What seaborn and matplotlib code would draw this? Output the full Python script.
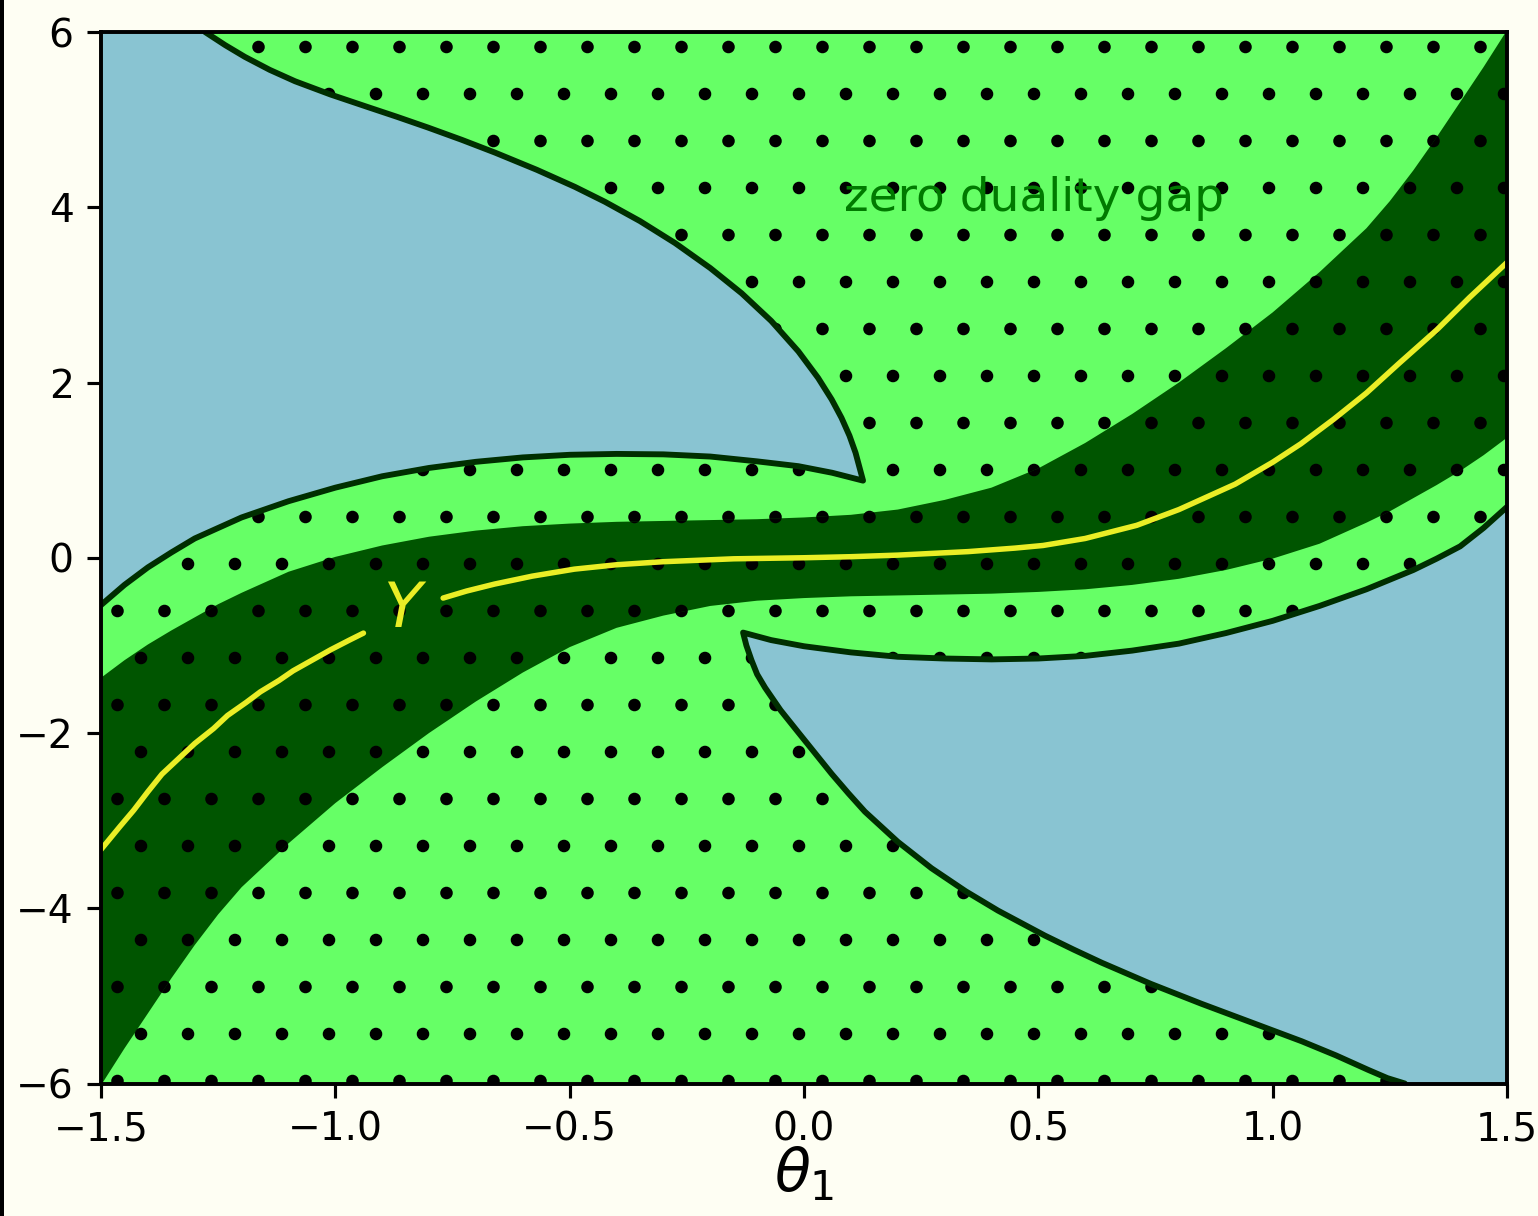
import matplotlib
matplotlib.use("Agg")
import matplotlib.pyplot as plt
import seaborn as sns

# -----------------------------
# Values
# -----------------------------
# upper-left "gap" lobe boundary: from the top edge down to the cusp, then back to the left edge
ul_x = [-1.278, -1.235, -1.193, -1.14, -1.086, -1.01, -0.930, -0.87, -0.802, -0.73,
        -0.659, -0.57, -0.489, -0.425, -0.35, -0.275, -0.20, -0.133, -0.07, -0.012,
        0.03, 0.059, 0.08, 0.097, 0.11, 0.126,
        0.06, -0.012, -0.1, -0.2, -0.3, -0.4, -0.5, -0.6, -0.7, -0.8, -0.9, -1.0,
        -1.1, -1.2, -1.3, -1.35, -1.4, -1.45, -1.5]
ul_y = [6.0, 5.85, 5.716, 5.568, 5.438, 5.286, 5.142, 5.035, 4.909, 4.769,
        4.623, 4.427, 4.233, 4.063, 3.842, 3.591, 3.306, 3.018, 2.703, 2.355,
        2.053, 1.807, 1.597, 1.393, 1.198, 0.88,
        0.97, 1.045, 1.10, 1.155, 1.18, 1.185, 1.175, 1.145, 1.095, 1.025, 0.93, 0.80,
        0.645, 0.46, 0.22, 0.06, -0.11, -0.31, -0.54]

# lower-right lobe boundary: from the bottom edge up to the cusp, then to the right edge
lr_x = [1.282, 1.245, 1.204, 1.135, 1.062, 0.96, 0.848, 0.74, 0.635, 0.575,
        0.514, 0.414, 0.345, 0.272, 0.20, 0.130, 0.095, 0.059, 0.025, -0.012,
        -0.05, -0.083, -0.10, -0.112, -0.123, -0.130,
        -0.07, 0.0, 0.1, 0.2, 0.3, 0.4, 0.5, 0.6, 0.7, 0.8, 0.9, 1.0,
        1.1, 1.2, 1.3, 1.35, 1.4, 1.45, 1.5]
lr_y = [-6.0, -5.939, -5.845, -5.679, -5.518, -5.314, -5.090, -4.863, -4.621, -4.471,
        -4.312, -4.027, -3.806, -3.543, -3.241, -2.898, -2.69, -2.466, -2.24, -1.994,
        -1.74, -1.483, -1.33, -1.170, -1.00, -0.854,
        -0.94, -1.01, -1.08, -1.13, -1.15, -1.16, -1.15, -1.12, -1.06, -0.98, -0.86, -0.72,
        -0.55, -0.36, -0.14, -0.01, 0.13, 0.34, 0.58]

# dark band around the Y curve
band_x = [-1.5, -1.45, -1.4, -1.35, -1.3, -1.25, -1.2, -1.1, -1.0, -0.9, -0.8, -0.7, -0.6,
          -0.5, -0.4, -0.3, -0.2, -0.1, 0.0, 0.1, 0.2, 0.3, 0.4, 0.5, 0.6, 0.7, 0.8, 0.9,
          1.0, 1.1, 1.2, 1.25, 1.3, 1.35, 1.4, 1.45, 1.5]
band_hi = [-1.37, -1.17, -0.99, -0.83, -0.68, -0.53, -0.40, -0.16, 0.01, 0.14, 0.24, 0.31,
           0.36, 0.39, 0.41, 0.42, 0.43, 0.44, 0.46, 0.49, 0.55, 0.66, 0.80, 1.02, 1.31,
           1.64, 2.00, 2.39, 2.80, 3.26, 3.76, 4.07, 4.42, 4.80, 5.20, 5.60, 6.02]
band_lo = [-6.02, -5.60, -5.20, -4.80, -4.42, -4.07, -3.76, -3.26, -2.80, -2.39, -2.00,
           -1.64, -1.31, -1.02, -0.80, -0.66, -0.55, -0.49, -0.46, -0.44, -0.43, -0.42,
           -0.41, -0.39, -0.36, -0.31, -0.24, -0.14, -0.01, 0.16, 0.40, 0.53, 0.68, 0.83,
           0.99, 1.17, 1.37]

# the Y curve (split where its label sits)
y1_x = [-1.5, -1.46, -1.43, -1.40, -1.37, -1.33, -1.30, -1.26, -1.23, -1.19, -1.16,
        -1.12, -1.09, -1.05, -1.01, -0.97, -0.94]
y1_y = [-3.33, -3.07, -2.88, -2.67, -2.47, -2.27, -2.12, -1.95, -1.80, -1.65, -1.53,
        -1.40, -1.29, -1.17, -1.05, -0.94, -0.86]
y2_x = [-0.77, -0.72, -0.66, -0.58, -0.49, -0.40, -0.30, -0.15, 0.0, 0.10, 0.20, 0.35,
        0.45, 0.51, 0.60, 0.71, 0.80, 0.92, 1.00, 1.06, 1.13, 1.20, 1.27, 1.35, 1.42, 1.5]
y2_y = [-0.46, -0.38, -0.30, -0.21, -0.13, -0.08, -0.045, -0.012, 0.0, 0.012, 0.03, 0.07,
        0.11, 0.14, 0.22, 0.37, 0.55, 0.84, 1.09, 1.30, 1.58, 1.88, 2.22, 2.60, 2.97, 3.37]

x_ticks = [-1.5, -1.0, -0.5, 0.0, 0.5, 1.0, 1.5]
y_ticks = [-6, -4, -2, 0, 2, 4, 6]

# -----------------------------
# Style
# -----------------------------
sns.set_style("ticks", rc={"axes.edgecolor": "black", "text.color": "black",
                           "xtick.color": "black", "ytick.color": "black",
                           "axes.labelcolor": "black"})
plt.rcParams["font.family"] = ["DejaVu Sans"]
plt.rcParams["font.size"] = 10
plt.rcParams["hatch.linewidth"] = 0.8
plt.rcParams["hatch.color"] = "black"

blue = "#89c4d2"
light = "#66ff66"
dark = "#005500"
edge = "#002e00"
yellow = "#eaee26"

dpi = 282
fig = plt.figure(figsize=(1538 / dpi, 1216 / dpi), dpi=dpi, facecolor="#fefef3")
ax = fig.add_axes([101 / 1538, 132.5 / 1216, 1406 / 1538, 1051.5 / 1216])

# light green, dotted background = zero duality gap region
ax.patch.set_facecolor(light)
ax.patch.set_edgecolor("black")
ax.patch.set_linewidth(0)
ax.patch.set_hatch(".")

ax.fill_between(band_x, band_lo, band_hi, facecolor=dark, edgecolor="black",
                linewidth=0, hatch=".", zorder=1)

ax.fill(ul_x + [-1.5], ul_y + [6.0], color=blue, linewidth=0, zorder=2)
ax.fill(lr_x + [1.5], lr_y + [-6.0], color=blue, linewidth=0, zorder=2)
sns.lineplot(x=ul_x, y=ul_y, sort=False, estimator=None, color=edge, linewidth=1.5, ax=ax, zorder=3)
sns.lineplot(x=lr_x, y=lr_y, sort=False, estimator=None, color=edge, linewidth=1.5, ax=ax, zorder=3)

sns.lineplot(x=y1_x, y=y1_y, sort=False, estimator=None, color=yellow, linewidth=1.4, ax=ax, zorder=4)
sns.lineplot(x=y2_x, y=y2_y, sort=False, estimator=None, color=yellow, linewidth=1.4, ax=ax, zorder=4)
ax.text(-0.851, -0.60, "$Y$", color=yellow, fontsize=16, ha="center", va="center", zorder=5)
ax.text(0.49, 4.1, "zero duality gap", color="#007a00", fontsize=12, ha="center", va="center", zorder=5)

ax.set_xlim(-1.5, 1.5)
ax.set_ylim(-6, 6)
ax.set_xticks(x_ticks)
ax.set_yticks(y_ticks)
ax.set_xlabel(r"$\theta_1$", fontsize=15, labelpad=-1)
ax.set_ylabel("")
for s in ax.spines.values():
    s.set_visible(True)
    s.set_linewidth(1.0)
    s.set_zorder(6)

# thin dark border on the left edge of the screenshot
fig.patches.append(plt.Rectangle((0, 0), 4 / 1538, 1, transform=fig.transFigure,
                                 facecolor="black", edgecolor="none", zorder=10))

fig.savefig("out.png", dpi=dpi, facecolor=fig.get_facecolor())
